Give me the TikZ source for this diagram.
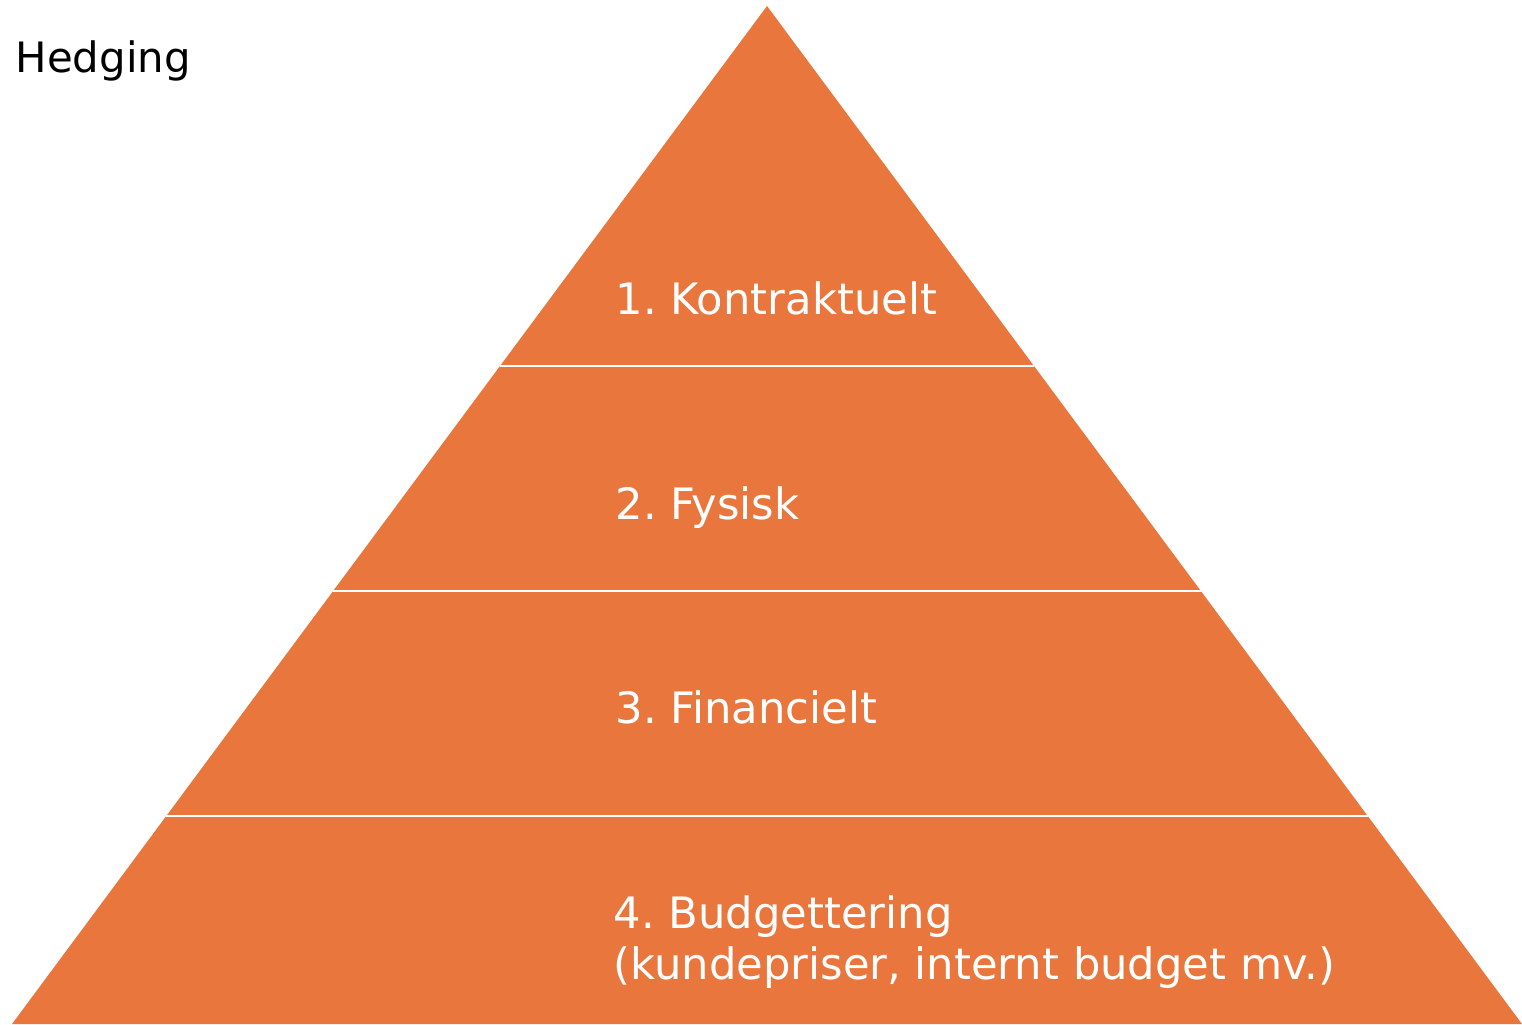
\documentclass[tikz,border=0pt]{standalone}
\usepackage{fontspec}
\setmainfont{DejaVu Sans}
\usetikzlibrary{calc}
\definecolor{pyr}{HTML}{E9773D}
\frenchspacing
\begin{document}
\begin{tikzpicture}[x=0.01cm,y=-0.01cm,
  layer/.style={fill=pyr,draw=none},
  sep/.style={draw=white,line width=0.6pt},
  lbl/.style={anchor=base west,inner sep=0pt,text=white,font=\fontsize{12.3}{15}\selectfont,align=left},
  ttl/.style={anchor=base west,inner sep=0pt,text=black,font=\fontsize{11.9}{15}\selectfont}]
\useasboundingbox (0,0) rectangle (1522,1024);
\coordinate (apex) at (767,6);
\coordinate (bl) at (12,1024);
\coordinate (br) at (1522,1024);
\fill[layer] (apex) -- (br) -- (bl) -- cycle;
\coordinate (l1) at ($(apex)!0.35363!(bl)$);
\coordinate (r1) at ($(apex)!0.35363!(br)$);
\coordinate (l2) at ($(apex)!0.57466!(bl)$);
\coordinate (r2) at ($(apex)!0.57466!(br)$);
\coordinate (l3) at ($(apex)!0.79568!(bl)$);
\coordinate (r3) at ($(apex)!0.79568!(br)$);
\draw[sep] (l1) -- (r1);
\draw[sep] (l2) -- (r2);
\draw[sep] (l3) -- (r3);
\node[lbl] (t1) at (615,314) {1. Kontraktuelt};
\node[lbl] (t2) at (615,519) {2. Fysisk};
\node[lbl] (t3) at (615,723) {3. Financielt};
\node[lbl] (t4) at (613,928) {4. Budgettering};
\node[lbl] (t5) at (613,979) {(kundepriser, internt budget mv.)};
\node[ttl] (h) at (15,72) {Hedging};
\end{tikzpicture}
\end{document}
